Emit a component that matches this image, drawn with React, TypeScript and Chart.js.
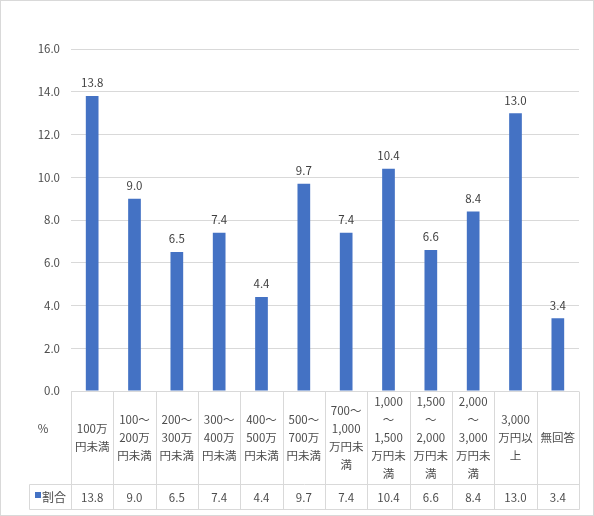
import { useEffect, useRef } from "react";
import { Chart, registerables } from "chart.js";

Chart.register(...registerables);

// category labels, already split the way the table cells wrap them
const categories: string[][] = [
  ["100万", "円未満"],
  ["100～", "200万", "円未満"],
  ["200～", "300万", "円未満"],
  ["300～", "400万", "円未満"],
  ["400～", "500万", "円未満"],
  ["500～", "700万", "円未満"],
  ["700～", "1,000", "万円未", "満"],
  ["1,000", "～", "1,500", "万円未", "満"],
  ["1,500", "～", "2,000", "万円未", "満"],
  ["2,000", "～", "3,000", "万円未", "満"],
  ["3,000", "万円以", "上"],
  ["無回答"],
];
const values = [13.8, 9.0, 6.5, 7.4, 4.4, 9.7, 7.4, 10.4, 6.6, 8.4, 13.0, 3.4];
const seriesName = "割合";
const unitLabel = "%";
const yMin = 0;
const yMax = 16;
const yStep = 2;

const FONT = '"Noto Sans CJK JP", "Noto Sans", sans-serif';
const BAR = "#4472C4";
const TEXT = "#4d4d4d";
const LINE = "#d9d9d9";

const labelPlugin = {
  id: "barLabels",
  afterDatasetsDraw(chart: any) {
    const { ctx } = chart;
    const meta = chart.getDatasetMeta(0);
    ctx.save();
    ctx.font = `11.5px ${FONT}`;
    ctx.fillStyle = "#404040";
    ctx.textAlign = "center";
    ctx.textBaseline = "middle";
    meta.data.forEach((bar: any, i: number) => {
      ctx.fillText(values[i].toFixed(1), bar.x, bar.y - 13);
    });
    ctx.restore();
  },
};

const tablePlugin = {
  id: "dataTable",
  afterDraw(chart: any) {
    const { ctx, chartArea, scales } = chart;
    const x = scales.x;
    const n = categories.length;
    const w = (chartArea.right - chartArea.left) / n;
    const top = Math.round(chartArea.bottom) + 0.5;
    const split = top + 93;
    const bottom = split + 25;
    const left = 29.5;
    const right = Math.round(chartArea.right) + 0.5;

    ctx.save();
    ctx.strokeStyle = LINE;
    ctx.lineWidth = 1;
    ctx.beginPath();
    for (let i = 0; i <= n; i++) {
      const edge = Math.round(x.getPixelForValue(Math.min(i, n - 1)) + (i === n ? w / 2 : -w / 2)) + 0.5;
      ctx.moveTo(edge, top);
      ctx.lineTo(edge, bottom);
    }
    ctx.moveTo(left, split);
    ctx.lineTo(right, split);
    ctx.moveTo(left, bottom);
    ctx.lineTo(right, bottom);
    ctx.moveTo(left, split);
    ctx.lineTo(left, bottom);
    // outer frame
    ctx.strokeRect(0.5, 0.5, chart.width - 1, chart.height - 1);
    ctx.stroke();

    ctx.font = `11.5px ${FONT}`;
    ctx.fillStyle = TEXT;
    ctx.textAlign = "center";
    ctx.textBaseline = "middle";
    const midCat = (top + split) / 2;
    const midVal = (split + bottom) / 2;
    categories.forEach((lines, i) => {
      const cx = x.getPixelForValue(i);
      const lh = 18;
      const y0 = midCat - ((lines.length - 1) * lh) / 2;
      lines.forEach((t, j) => ctx.fillText(t, cx, y0 + j * lh));
      ctx.fillText(values[i].toFixed(1), cx, midVal + 1);
    });

    ctx.fillText(unitLabel, 43, top + 37);
    ctx.fillStyle = BAR;
    ctx.fillRect(35, Math.round(midVal) - 5, 6, 6);
    ctx.fillStyle = TEXT;
    ctx.font = `12px ${FONT}`;
    ctx.textAlign = "left";
    ctx.fillText(seriesName, 42, midVal);
    ctx.restore();
  },
};

const App = () => {
  const chartRef: any = useRef(null);
  useEffect(() => {
    const ctx = chartRef.current.getContext("2d");
    const theChart = new Chart(ctx, {
      type: "bar",
      data: {
        labels: categories,
        datasets: [
          {
            label: seriesName,
            data: values,
            backgroundColor: BAR,
            categoryPercentage: 1,
            barPercentage: 0.3,
          },
        ],
      },
      options: {
        animation: false,
        responsive: true,
        maintainAspectRatio: false,
        layout: {
          padding: { top: 49, right: 15, bottom: 125, left: 0 },
        },
        plugins: {
          legend: { display: false },
          tooltip: { enabled: false },
        },
        scales: {
          x: { display: false },
          y: {
            min: yMin,
            max: yMax,
            border: { display: false },
            grid: { color: LINE, drawTicks: false },
            afterFit: (scale: any) => {
              scale.width = 71;
            },
            ticks: {
              stepSize: yStep,
              padding: 11,
              color: TEXT,
              font: { family: FONT, size: 11.5 },
              callback: (v: any) => Number(v).toFixed(1),
            },
          },
        },
      },
      plugins: [labelPlugin, tablePlugin],
    });
    return () => {
      theChart.destroy();
    };
  }, []);

  return (
    <div style={{ position: "fixed", left: 0, top: 0, width: 594, height: 516, background: "#fff" }}>
      <canvas ref={chartRef} />
    </div>
  );
};

export default App;
